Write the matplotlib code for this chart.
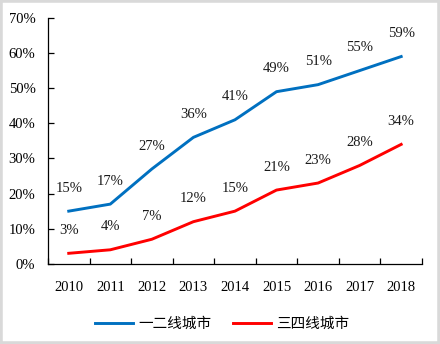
import matplotlib
matplotlib.use("Agg")
import matplotlib.pyplot as plt
from matplotlib.patches import Rectangle
import numpy as np

years = ["2010", "2011", "2012", "2013", "2014", "2015", "2016", "2017", "2018"]
tier12 = [15, 17, 27, 36, 41, 49, 51, 55, 59]
tier34 = [3, 4, 7, 12, 15, 21, 23, 28, 34]
yticks = [0, 10, 20, 30, 40, 50, 60, 70]
series_names = ["一二线城市", "三四线城市"]

plt.rcParams['font.family'] = ['Liberation Serif', 'Noto Sans CJK SC', 'DejaVu Sans']

fig = plt.figure(figsize=(4.4, 3.44), dpi=100)
fig.patch.set_facecolor('white')
fig.patches.append(Rectangle((0, 0), 1, 1, transform=fig.transFigure, fill=False,
                             edgecolor='#d9d9d9', linewidth=4, zorder=10))
ax = fig.add_axes([0.109, 0.233, 0.85, 0.715])

x = np.arange(len(years))
l1, = ax.plot(x, tier12, color='#0070C0', lw=2.1, label=series_names[0])
l2, = ax.plot(x, tier34, color='#FF0000', lw=2.1, label=series_names[1])

for xs, vals in ((x, tier12), (x, tier34)):
    for xi, v in zip(xs, vals):
        ax.annotate(f"{v}%", (xi, v), xytext=(0, 16.5), textcoords='offset points',
                    ha='center', va='center', fontsize=10.5, color='#1a1a1a')

ax.set_xlim(-0.5, len(years) - 0.5)
ax.set_ylim(0, 70)
ax.set_yticks(yticks)
ax.set_yticklabels([f"{v}%" for v in yticks])
ax.set_xticks(np.arange(len(years) + 1) - 0.5)
ax.set_xticklabels([])
ax.set_xticks(x, minor=True)
ax.set_xticklabels(years, minor=True)
ax.tick_params(axis='x', which='major', direction='in', length=4.5, width=0.9)
ax.tick_params(axis='x', which='minor', length=0, pad=12, labelsize=10.5)
ax.tick_params(axis='y', direction='in', length=4, width=0.9, pad=9, labelsize=10.5)
for s in ('top', 'right'):
    ax.spines[s].set_visible(False)
for s in ('left', 'bottom'):
    ax.spines[s].set_linewidth(0.9)

fig.legend(handles=[l1, l2], loc='center', bbox_to_anchor=(0.505, 0.059), ncol=2,
           frameon=False, handlelength=2.6, handletextpad=0.35,
           columnspacing=1.5, prop={'family': ['Noto Sans CJK SC'], 'size': 10.5})

fig.savefig("out.png", dpi=100)
